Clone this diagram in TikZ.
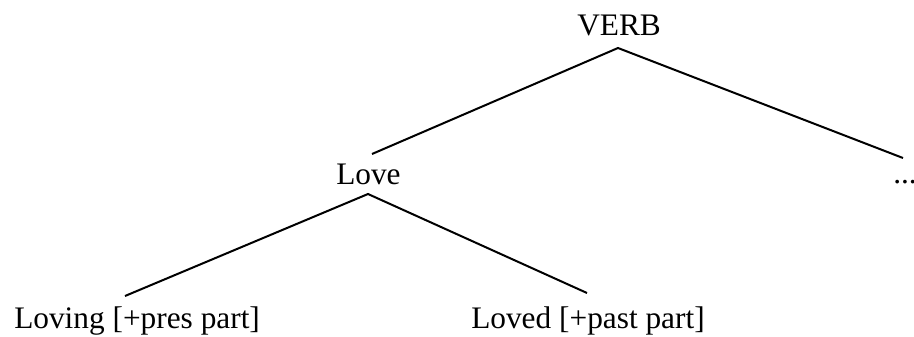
\documentclass[tikz,border=0pt]{standalone}
\usepackage{fontspec}
\setmainfont{Liberation Serif}
\begin{document}
\begin{tikzpicture}[x=0.75pt,y=-0.75pt,
  lbl/.style={anchor=base west,inner sep=0pt,font=\fontsize{23.5}{28}\selectfont},
  branch/.style={line width=1.5pt}]
\useasboundingbox (0,0) rectangle (914,336);
\clip (0,0) rectangle (914,336);
\node[lbl] (verb) at (577,35) {VERB};
\node[lbl] (love) at (336,184) {Love};
\node[lbl] (dots) at (893,183) {...};
\node[lbl] (loving) at (14,328) {Loving [+pres part]};
\node[lbl] (loved) at (471,328) {Loved [+past part]};
\coordinate (verbtop) at (618,48);
\coordinate (lovein) at (372,154);
\coordinate (dotsin) at (903,158);
\coordinate (lovetop) at (368,194);
\coordinate (lovingin) at (125,296);
\coordinate (lovedin) at (587,293);
\draw[branch] (lovein) -- (verbtop) -- (dotsin);
\draw[branch] (lovingin) -- (lovetop) -- (lovedin);
\end{tikzpicture}
\end{document}
